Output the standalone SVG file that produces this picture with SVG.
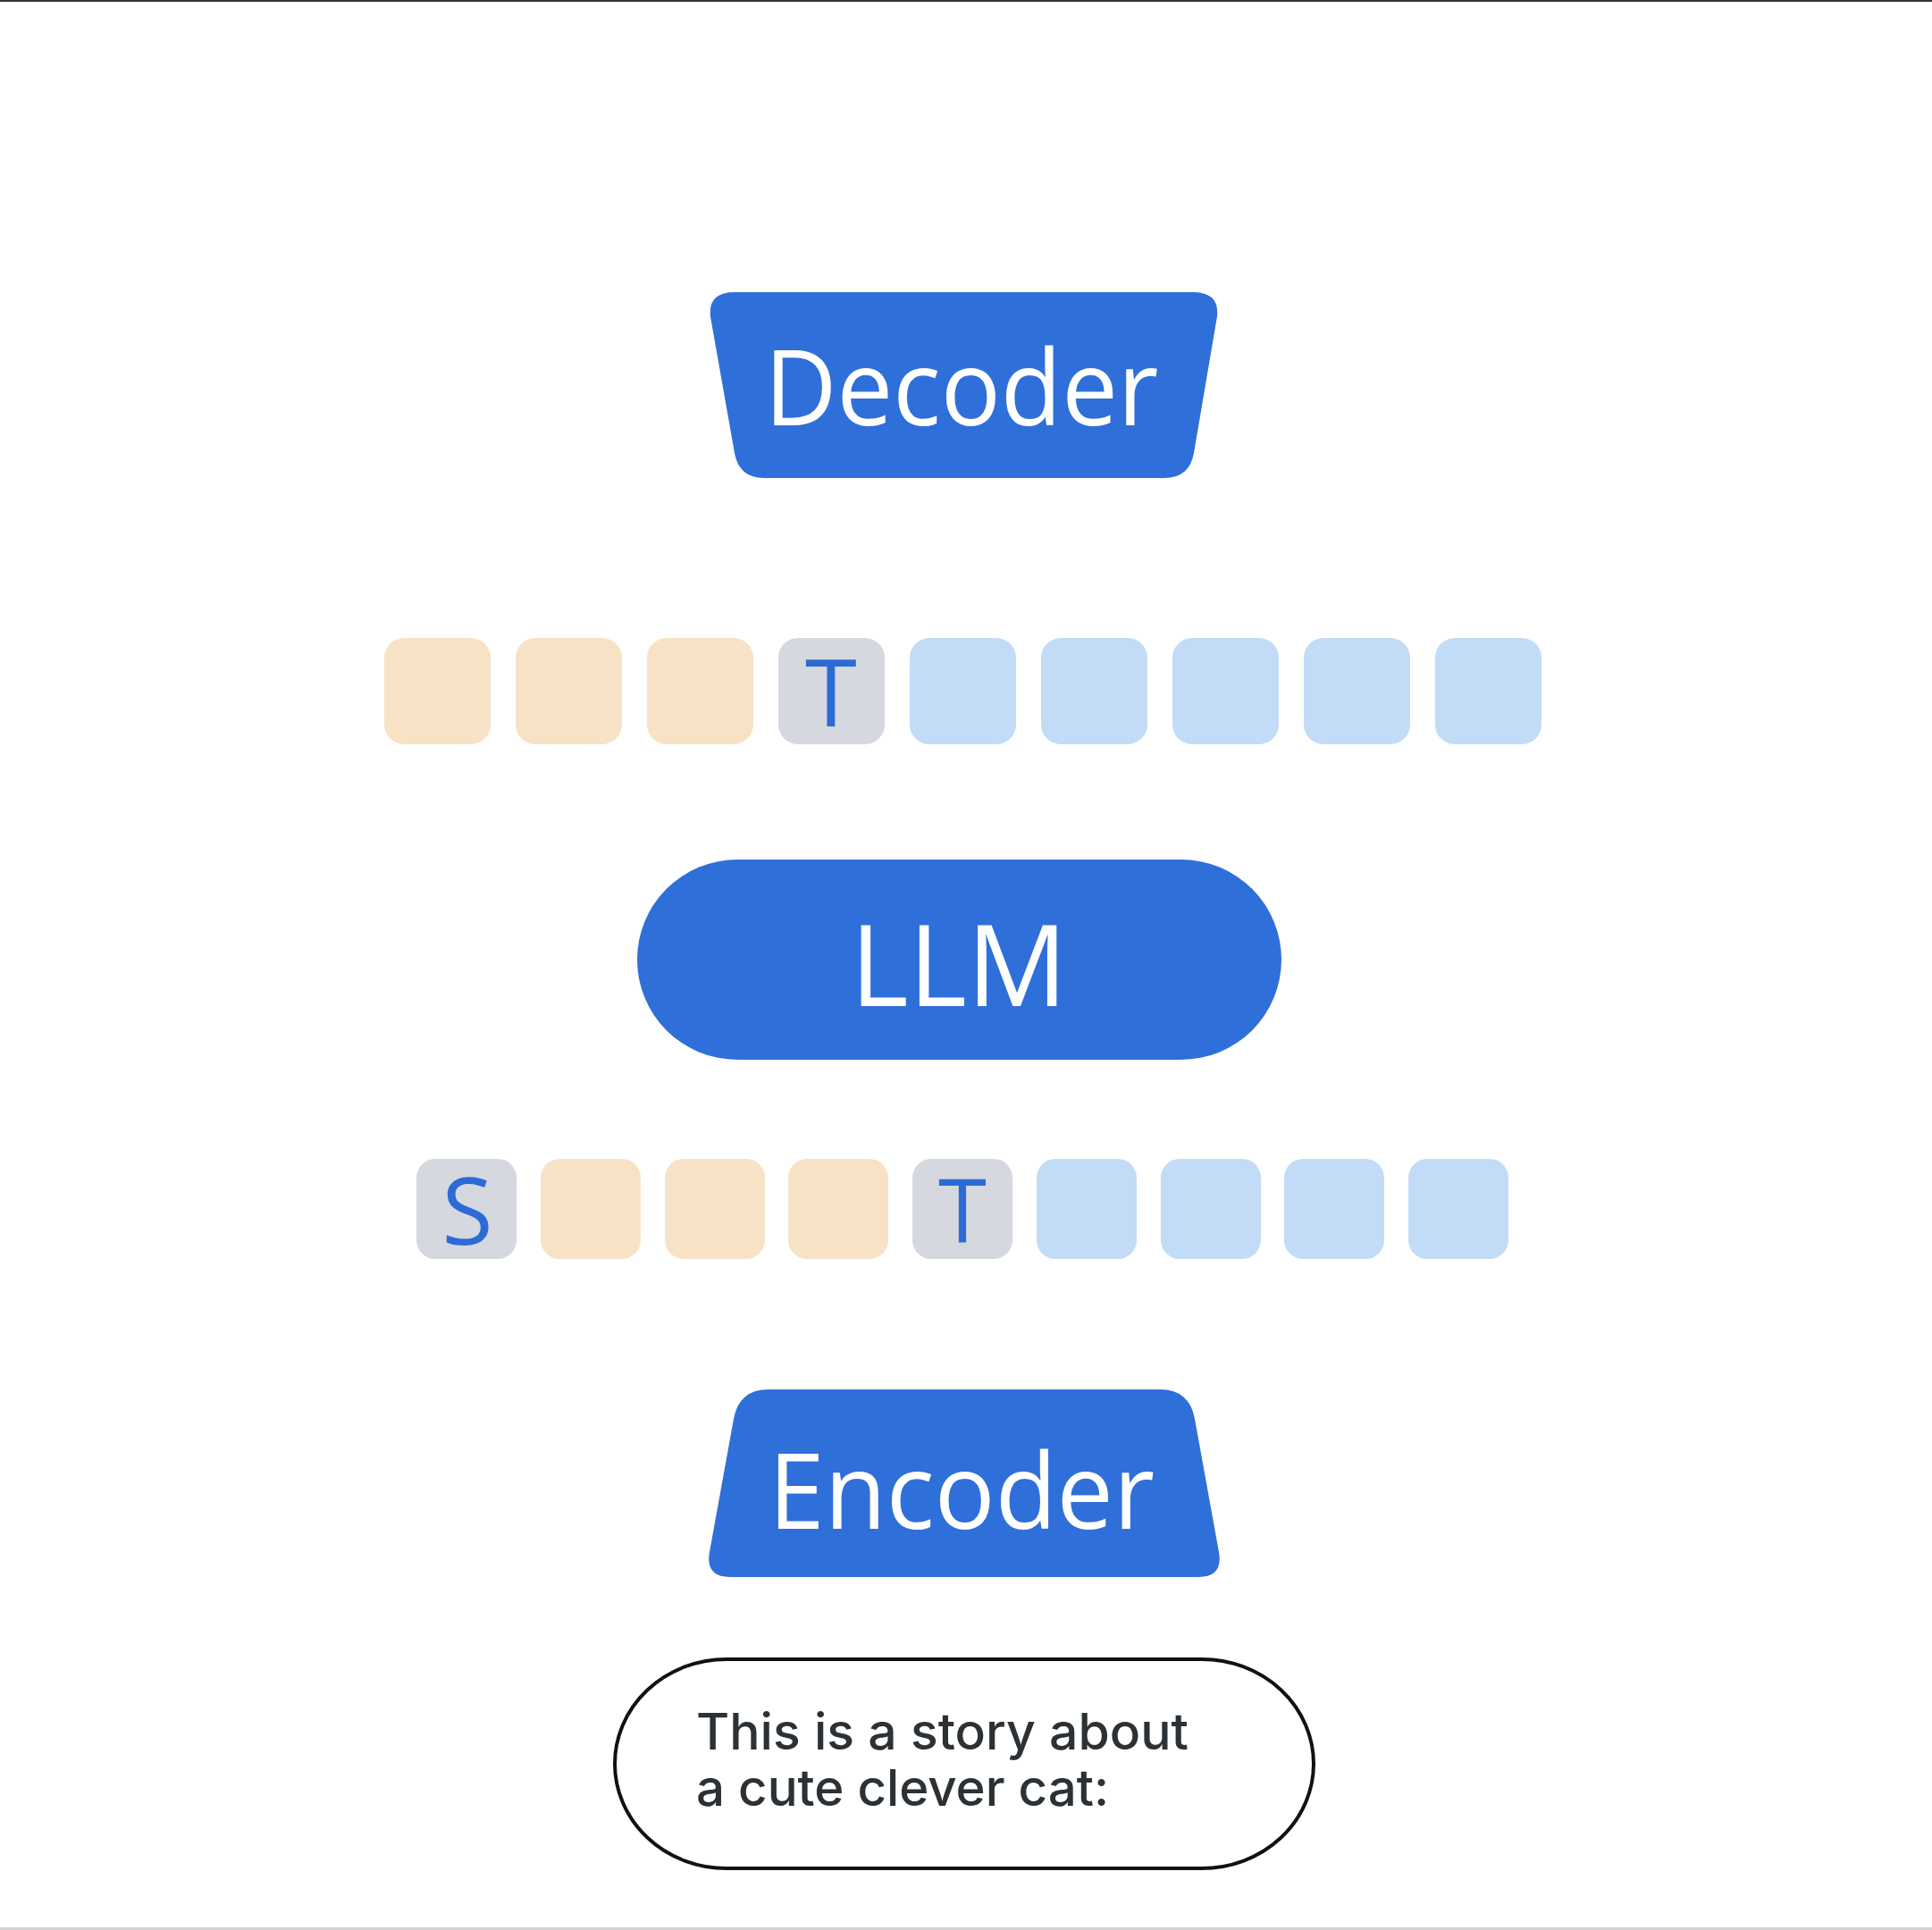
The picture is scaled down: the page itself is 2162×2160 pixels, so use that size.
<svg xmlns="http://www.w3.org/2000/svg" width="2162" height="2160" viewBox="0 0 2162 2160">
<style>
.blue{fill:#2f6fd9}
.lbl{font-family:"Open Sans",Inter,"Liberation Sans",sans-serif;fill:#ffffff;text-anchor:middle}
.tok-p{fill:#f8e2c6}
.tok-b{fill:#c2dcf8}
.tok-g{fill:#d5d8de}
.tokt{font-family:"Open Sans",Inter,"Liberation Sans",sans-serif;font-weight:500;fill:#2e6ad6;text-anchor:middle}
.inp{font-family:Inter,"Open Sans","Liberation Sans",sans-serif;font-weight:500;fill:#2b3135;font-size:56px}
</style>
<rect x="0" y="0" width="2162" height="2160" fill="#ffffff"/>
<rect x="0" y="0" width="2162" height="2" fill="#333333"/>
<rect x="0" y="2157" width="2162" height="3" fill="#d2d2d2"/>

<g id="decoder">
<path class="blue" d="M822,327 L1335,327 Q1368,327 1361,360 L1336,507 Q1331,535 1303,535 L855,535 Q827,535 822,507 L796,360 Q789,327 822,327 Z"/>
<text class="lbl" x="1076" y="476" font-size="118" textLength="441" lengthAdjust="spacingAndGlyphs">Decoder</text>
</g>

<g id="output-tokens">
<rect class="tok-p" x="430" y="714" width="119" height="119" rx="22"/>
<rect class="tok-p" x="577" y="714" width="119" height="119" rx="22"/>
<rect class="tok-p" x="724" y="714" width="119" height="119" rx="22"/>
<rect class="tok-g" x="871" y="714" width="119" height="119" rx="22"/>
<text class="tokt" x="930" y="813" font-size="105">T</text>
<rect class="tok-b" x="1018" y="714" width="119" height="119" rx="22"/>
<rect class="tok-b" x="1165" y="714" width="119" height="119" rx="22"/>
<rect class="tok-b" x="1312" y="714" width="119" height="119" rx="22"/>
<rect class="tok-b" x="1459" y="714" width="119" height="119" rx="22"/>
<rect class="tok-b" x="1606" y="714" width="119" height="119" rx="22"/>
</g>

<g id="llm">
<rect class="blue" x="713" y="962" width="721" height="224" rx="112"/>
<text class="lbl" x="1073" y="1126" font-size="126" textLength="243" lengthAdjust="spacingAndGlyphs">LLM</text>
</g>

<g id="input-tokens">
<rect class="tok-g" x="466" y="1297" width="112" height="112" rx="21"/>
<text class="tokt" x="523" y="1393" font-size="104" font-weight="600">S</text>
<rect class="tok-p" x="605" y="1297" width="112" height="112" rx="21"/>
<rect class="tok-p" x="744" y="1297" width="112" height="112" rx="21"/>
<rect class="tok-p" x="882" y="1297" width="112" height="112" rx="21"/>
<rect class="tok-g" x="1021" y="1297" width="112" height="112" rx="21"/>
<text class="tokt" x="1077" y="1390" font-size="98">T</text>
<rect class="tok-b" x="1160" y="1297" width="112" height="112" rx="21"/>
<rect class="tok-b" x="1299" y="1297" width="112" height="112" rx="21"/>
<rect class="tok-b" x="1437" y="1297" width="112" height="112" rx="21"/>
<rect class="tok-b" x="1576" y="1297" width="112" height="112" rx="21"/>
</g>

<g id="encoder">
<path class="blue" d="M860,1555 L1298,1555 Q1331,1555 1337,1588 L1364,1737 Q1369,1765 1341,1765 L817,1765 Q789,1765 794,1737 L821,1588 Q827,1555 860,1555 Z"/>
<text class="lbl" x="1076" y="1711" font-size="118" textLength="432" lengthAdjust="spacingAndGlyphs">Encoder</text>
</g>

<g id="input-text">
<rect x="688" y="1857" width="782" height="234" rx="125" ry="117" fill="#ffffff" stroke="#111111" stroke-width="4"/>
<text class="inp" x="779" y="1958" textLength="551" lengthAdjust="spacingAndGlyphs">This is a story about</text>
<text class="inp" x="779" y="2021" textLength="462" lengthAdjust="spacingAndGlyphs">a cute clever cat:</text>
</g>
</svg>
